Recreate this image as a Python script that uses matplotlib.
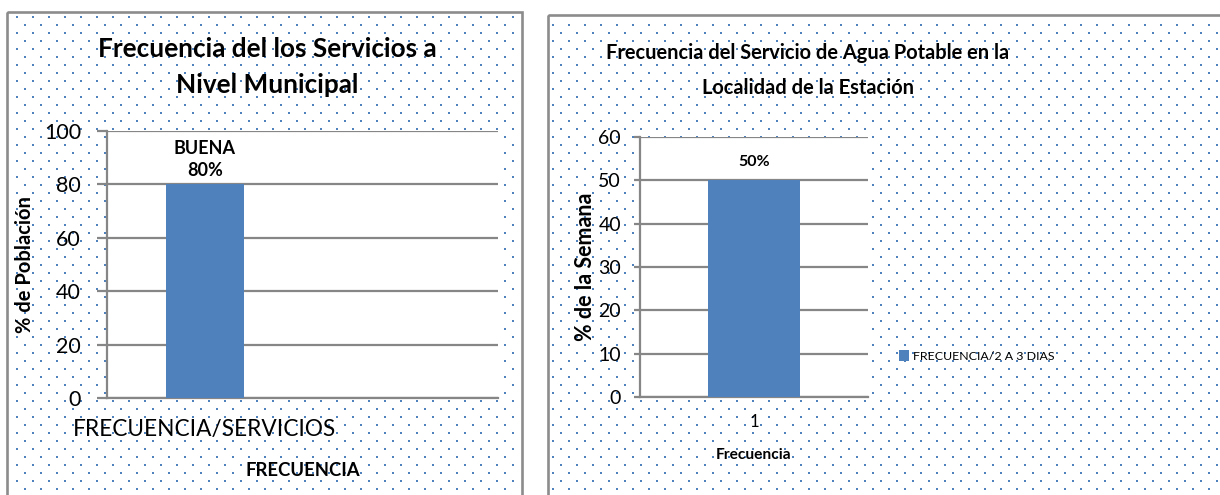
import numpy as np
import matplotlib
matplotlib.use("Agg")
import matplotlib.pyplot as plt
from matplotlib.patches import Rectangle
from matplotlib.font_manager import FontProperties

# ---------------- data ----------------
left_title = "Frecuencia del los Servicios a\nNivel Municipal"
left_categories = ["FRECUENCIA/SERVICIOS"]
left_values = [80]
left_bar_names = ["BUENA"]
left_ylabel = "% de Población"
left_xlabel = "FRECUENCIA"
left_yticks = [0, 20, 40, 60, 80, 100]

right_title = "Frecuencia del Servicio de Agua Potable en la\nLocalidad de la Estación"
right_categories = ["1"]
right_values = [50]
right_series = "FRECUENCIA/2 A 3 DIAS"
right_ylabel = "% de la Semana"
right_xlabel = "Frecuencia"
right_yticks = [0, 10, 20, 30, 40, 50, 60]

# ---------------- styling ----------------
W, H = 1220, 495
DPI = 100
BAR = "#4f81bd"
GRID = "#868686"
BORDER = "#8c8c8c"
FL = ["Lato", "DejaVu Sans"]


def fp(size, bold=False):
    return FontProperties(family=FL, size=size, weight="bold" if bold else "normal")


fig = plt.figure(figsize=(W / DPI, H / DPI), dpi=DPI)
fig.patch.set_facecolor("white")

# background with dotted panels
bg = fig.add_axes([0, 0, 1, 1], zorder=-10)
bg.set_xlim(0, W)
bg.set_ylim(H, 0)
bg.axis("off")
img = np.ones((H, W, 3))
panels = [(7, 12, 522, H + 5), (548, 15, W + 5, H + 5)]
dot = np.array([0x4f, 0x81, 0xbd]) / 255.0
for (x0, y0, x1, y1) in panels:
    for yy in range(0, H, 8):
        off = 8 if (yy // 8) % 2 else 0
        for xx in range(off, W, 16):
            if x0 + 2 < xx < x1 - 3 and y0 + 2 < yy < y1 - 3:
                img[yy:yy + 2, xx:xx + 2] = dot
bg.imshow(img, extent=(0, W, H, 0), interpolation="nearest", aspect="auto")
for (x0, y0, x1, y1) in panels:
    bg.add_patch(Rectangle((x0, y0), x1 - x0, y1 - y0, fill=False,
                           edgecolor=BORDER, linewidth=1.9))


def axes_px(l, t, r, b):
    return fig.add_axes([l / W, 1 - b / H, (r - l) / W, (b - t) / H])


def style(ax, ticklen, pad):
    ax.set_facecolor("white")
    for s in ["top", "right"]:
        ax.spines[s].set_visible(False)
    for s in ["left", "bottom"]:
        ax.spines[s].set_color(GRID)
        ax.spines[s].set_linewidth(1.6)
    ax.yaxis.grid(True, color=GRID, linewidth=1.6, zorder=0)
    ax.set_axisbelow(True)
    ax.tick_params(axis="y", length=ticklen, width=1.6, color=GRID, pad=pad)


# ---------------- left chart ----------------
axL = axes_px(107, 131, 498, 398)
xl = np.arange(len(left_categories))
axL.bar(xl, left_values, width=0.4, color=BAR, zorder=3)
axL.set_xlim(-0.5, 1.5)
axL.set_ylim(0, 100)
axL.set_yticks(left_yticks)
style(axL, 7.2, 11.5)
for lab in axL.get_yticklabels():
    lab.set_fontproperties(fp(15.5))
axL.set_xticks(xl)
axL.set_xticklabels(left_categories, fontproperties=fp(16.3))
axL.tick_params(axis="x", length=0, pad=15)
for name, v, x in zip(left_bar_names, left_values, xl):
    axL.annotate(f"{name}\n{v}%", xy=(x, v), xytext=(0, 4), textcoords="offset points",
                 ha="center", va="bottom", fontproperties=fp(13, True),
                 linespacing=1.35)
axL.set_xlabel(left_xlabel, fontproperties=fp(13.3, True), va="center")
axL.xaxis.set_label_coords(0.5, -(470 - 398) / (398 - 131))
axL.set_ylabel(left_ylabel, fontproperties=fp(14.5, True), va="center")
axL.yaxis.set_label_coords((25 - 107) / (498 - 107), 0.5)
t1, t2 = left_title.split("\n")
fig.text(267 / W, 1 - 49 / H, t1, ha="center", va="center", fontproperties=fp(18.8, True))
fig.text(267 / W, 1 - 85 / H, t2, ha="center", va="center", fontproperties=fp(18.8, True))

# ---------------- right chart ----------------
axR = axes_px(640, 137, 868, 397)
xr = np.arange(len(right_categories))
axR.bar(xr, right_values, width=0.4, color=BAR, zorder=3, label=right_series)
axR.set_xlim(-0.5, 0.5)
axR.set_ylim(0, 60)
axR.set_yticks(right_yticks)
style(axR, 4.3, 9.4)
for lab in axR.get_yticklabels():
    lab.set_fontproperties(fp(14))
axR.set_xticks(xr)
axR.set_xticklabels(right_categories, fontproperties=fp(12))
axR.tick_params(axis="x", length=0, pad=12)
for v, x in zip(right_values, xr):
    axR.annotate(f"{v}%", xy=(x, v), xytext=(0, 8), textcoords="offset points",
                 ha="center", va="bottom", fontproperties=fp(11.5, True))
axR.set_xlabel(right_xlabel, fontproperties=fp(11.2, True), va="center")
axR.xaxis.set_label_coords(0.5, -(455 - 397) / (397 - 137))
axR.set_ylabel(right_ylabel, fontproperties=fp(15.5, True), va="center")
axR.yaxis.set_label_coords((586 - 640) / (868 - 640), 0.5)
r1, r2 = right_title.split("\n")
fig.text(808 / W, 1 - 53 / H, r1, ha="center", va="center", fontproperties=fp(14.4, True))
fig.text(808 / W, 1 - 88 / H, r2, ha="center", va="center", fontproperties=fp(14.4, True))
leg = axR.legend(loc="center left", bbox_to_anchor=(899 / W, 1 - 356 / H),
                 bbox_transform=fig.transFigure, frameon=False,
                 prop=fp(8.9), handlelength=0.8, handleheight=1.0,
                 handletextpad=0.3, borderpad=0, borderaxespad=0)

fig.savefig("out.png", dpi=DPI, facecolor="white")
